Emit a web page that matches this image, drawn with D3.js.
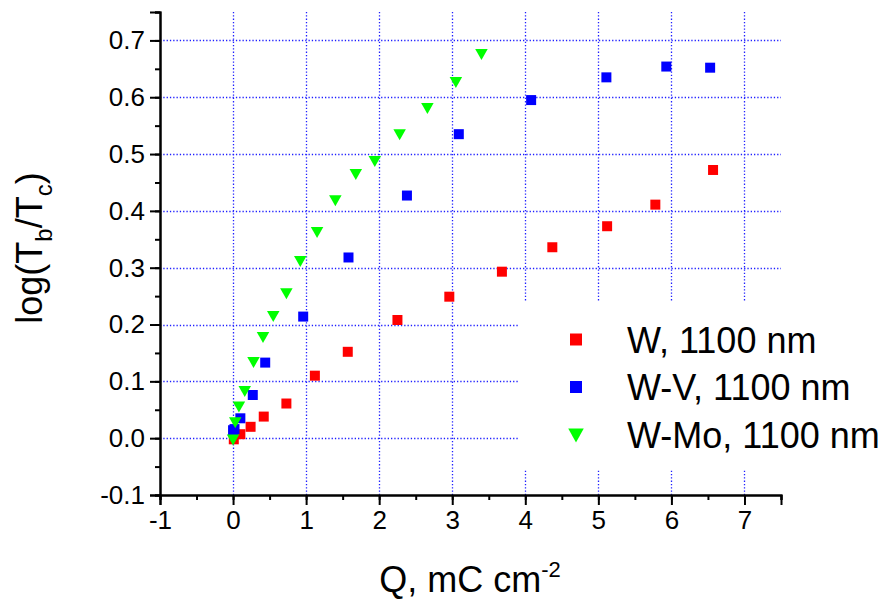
<!DOCTYPE html>
<html>
<head>
<meta charset="utf-8">
<script src="https://cdn.jsdelivr.net/npm/d3@7"></script>
<style>
  html, body { margin: 0; padding: 0; background: #fff; }
  svg { display: block; font-family: "Liberation Sans", Arial, sans-serif; }
</style>
</head>
<body>
<svg id="chart" width="891" height="600"></svg>
<script>
// Q (mC cm^-2) and log(Tb/Tc) for each film
const qW    = [0.01, 0.10, 0.24, 0.42, 0.73, 1.12, 1.57, 2.25, 2.96, 3.68, 4.37, 5.12, 5.78, 6.57];
const yW    = [-0.002, 0.007, 0.020, 0.038, 0.061, 0.110, 0.152, 0.208, 0.249, 0.293, 0.336, 0.373, 0.411, 0.472];
const qWV   = [0.00, 0.02, 0.10, 0.27, 0.44, 0.96, 1.58, 2.38, 3.09, 4.08, 5.11, 5.93, 6.53];
const yWV   = [0.014, 0.016, 0.035, 0.076, 0.133, 0.214, 0.318, 0.427, 0.535, 0.595, 0.635, 0.654, 0.652];
const qWMo  = [0.00, 0.03, 0.08, 0.16, 0.28, 0.41, 0.55, 0.73, 0.92, 1.15, 1.40, 1.68, 1.94, 2.28, 2.66, 3.05, 3.40];
const yWMo  = [-0.003, 0.027, 0.055, 0.082, 0.133, 0.177, 0.214, 0.254, 0.311, 0.362, 0.418, 0.464, 0.487, 0.534, 0.580, 0.626, 0.675];

const seriesNames = ["W, 1100 nm", "W-V, 1100 nm", "W-Mo, 1100 nm"];
const seriesColors = ["#ff0000", "#0000ff", "#00ff00"];
const seriesShapes = ["square", "square", "triangle"];

const xMajor = [-1, 0, 1, 2, 3, 4, 5, 6, 7];
const yMajor = [-0.1, 0.0, 0.1, 0.2, 0.3, 0.4, 0.5, 0.6, 0.7];
const xGrid = [0, 1, 2, 3, 4, 5, 6, 7];
const yGrid = [0.0, 0.1, 0.2, 0.3, 0.4, 0.5, 0.6, 0.7];

const svg = d3.select("#chart");
const plotL = 160, plotR = 781, plotT = 12, plotB = 495;

const x = d3.scaleLinear().domain([-1, 7.5]).range([plotL, plotR]);
const y = d3.scaleLinear().domain([-0.1, 0.75]).range([plotB, plotT]);

// dotted grid
const grid = svg.append("g").attr("stroke", "#2020ff").attr("stroke-width", 1.3)
  .attr("stroke-dasharray", "1.3,2").attr("fill", "none");
grid.selectAll("line.v").data(xGrid).join("line").attr("class", "v")
  .attr("x1", d => Math.round(x(d)) + 0.5).attr("x2", d => Math.round(x(d)) + 0.5)
  .attr("y1", plotT).attr("y2", plotB);
grid.selectAll("line.h").data(yGrid).join("line").attr("class", "h")
  .attr("y1", d => Math.round(y(d)) + 0.5).attr("y2", d => Math.round(y(d)) + 0.5)
  .attr("x1", plotL).attr("x2", plotR);

// legend background hides the grid beneath it
svg.append("rect").attr("x", 518).attr("y", 302).attr("width", 373).attr("height", 168).attr("fill", "#fff");

// axes
const fmtY = d => d3.format(".1f")(d).replace("−", "-");
const xMinor = d3.range(-1, 7.51, 0.5);
const yMinor = d3.range(-0.1, 0.751, 0.05);

const xAxisMinor = d3.axisBottom(x).tickValues(xMinor).tickSize(5).tickFormat("");
const xAxis = d3.axisBottom(x).tickValues(xMajor).tickSize(10).tickPadding(6)
  .tickFormat(d => String(d).replace("−", "-"));
const yAxisMinor = d3.axisLeft(y).tickValues(yMinor).tickSize(5).tickFormat("");
const yAxis = d3.axisLeft(y).tickValues(yMajor).tickSize(10).tickPadding(5).tickFormat(fmtY);

function styleAxis(g) {
  g.select(".domain").attr("stroke", "#000").attr("stroke-width", 2);
  g.selectAll(".tick line").attr("stroke", "#000").attr("stroke-width", 2);
  g.selectAll(".tick text").attr("fill", "#000").attr("font-size", 26)
    .attr("font-family", "'Liberation Sans', Arial, sans-serif");
}
svg.append("g").attr("transform", `translate(0,${plotB})`).call(xAxisMinor).call(styleAxis);
svg.append("g").attr("transform", `translate(0,${plotB})`).call(xAxis).call(styleAxis);
svg.append("g").attr("transform", `translate(${plotL},0)`).call(yAxisMinor).call(styleAxis);
svg.append("g").attr("transform", `translate(${plotL},0)`).call(yAxis).call(styleAxis);

// markers
const data = [
  qW.map((q, i) => ({ q, v: yW[i] })),
  qWV.map((q, i) => ({ q, v: yWV[i] })),
  qWMo.map((q, i) => ({ q, v: yWMo[i] }))
];
const symSquare = d3.symbol().type(d3.symbolSquare).size(100);
const symSquareLg = d3.symbol().type(d3.symbolSquare).size(144);
function triPath(w, h) {
  return `M${-w / 2},${-h / 2}L${w / 2},${-h / 2}L0,${h / 2}Z`;
}

data.forEach((pts, si) => {
  const g = svg.append("g").attr("fill", seriesColors[si]);
  g.selectAll("path").data(pts).join("path")
    .attr("transform", d => `translate(${x(d.q)},${y(d.v)})`)
    .attr("d", seriesShapes[si] === "square" ? symSquare() : triPath(12.5, 11));
});

// legend
const legend = svg.append("g");
seriesNames.forEach((name, i) => {
  const cy = 339.5 + i * 47.5;
  legend.append("path")
    .attr("transform", `translate(576,${cy + (seriesShapes[i] === "triangle" ? 1 : 0)})`)
    .attr("d", seriesShapes[i] === "square" ? symSquareLg() : triPath(15.5, 14))
    .attr("fill", seriesColors[i]);
  legend.append("text").attr("x", 627).attr("y", cy + 13.3)
    .attr("font-size", 36).attr("fill", "#000").text(name);
});

// axis titles
const xt = svg.append("text").attr("x", 470).attr("y", 592).attr("text-anchor", "middle")
  .attr("font-size", 36).attr("fill", "#000");
xt.append("tspan").text("Q, mC cm");
xt.append("tspan").attr("font-size", 22).attr("dy", -15).text("-2");

const yt = svg.append("text").attr("transform", "translate(42,248) rotate(-90)")
  .attr("text-anchor", "middle").attr("font-size", 36).attr("fill", "#000");
yt.append("tspan").text("log(T");
yt.append("tspan").attr("font-size", 24).attr("dy", 10).text("b");
yt.append("tspan").attr("dy", -10).text("/T");
yt.append("tspan").attr("font-size", 24).attr("dy", 10).text("c");
yt.append("tspan").attr("dy", -10).text(")");
</script>
</body>
</html>
